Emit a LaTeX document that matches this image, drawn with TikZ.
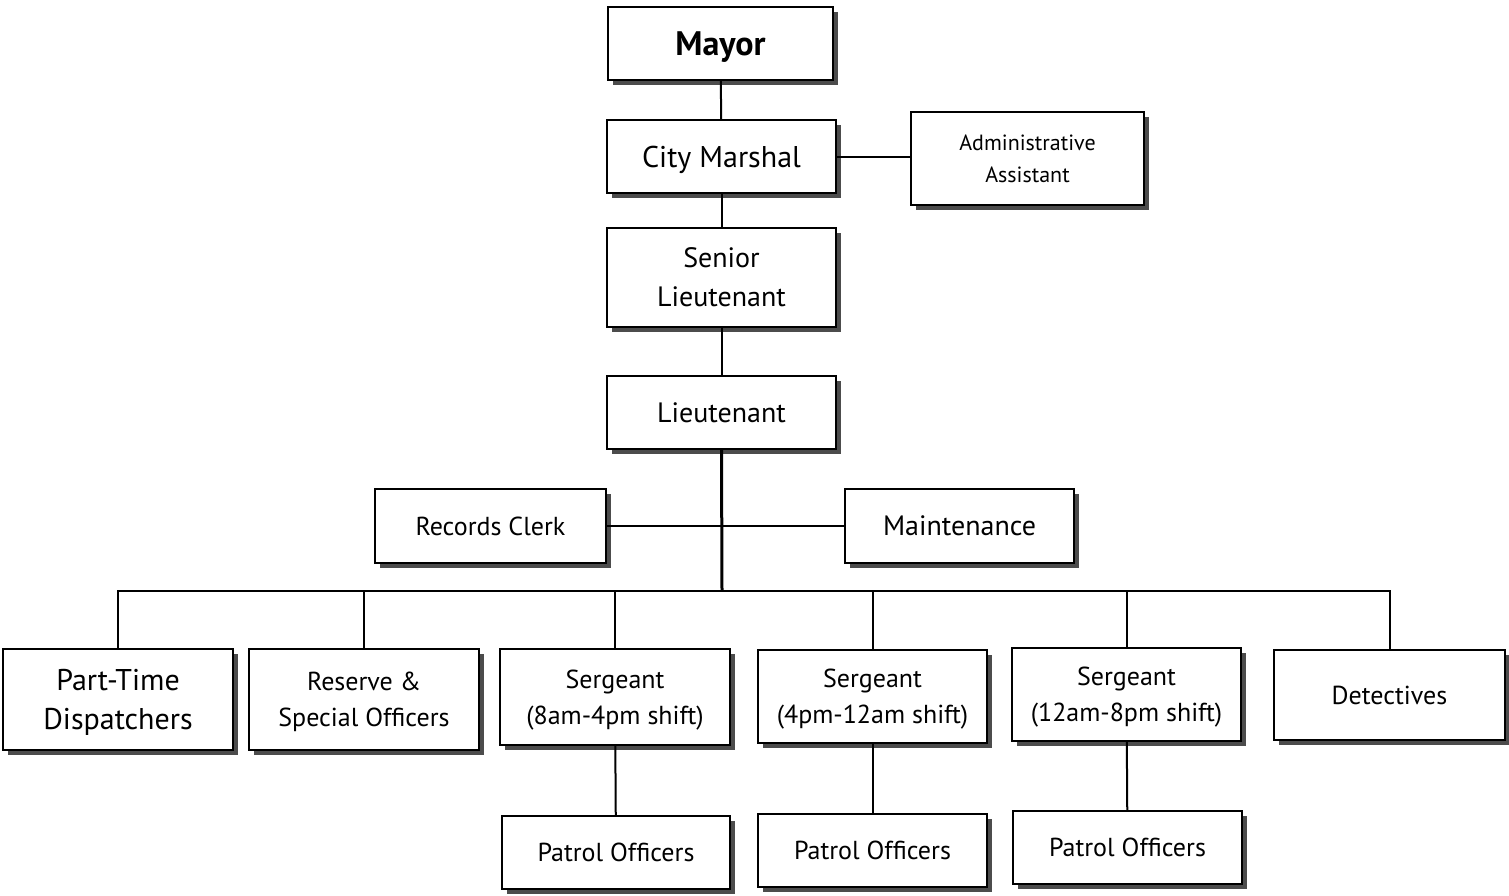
\documentclass[tikz,border=0pt]{standalone}
\usepackage{fontspec}
\setmainfont{PT Sans}
\usepackage{tikz}
\usetikzlibrary{positioning,shadows}
\newcommand{\bigtxt}{\fontsize{15}{19.5}\selectfont}
\newcommand{\midtxt}{\fontsize{13}{18}\selectfont}
\newcommand{\smalltxt}{\fontsize{11}{16}\selectfont}
\tikzset{
  orgbox/.style={draw, line width=1pt, fill=white, align=center, inner sep=2pt,
    minimum width=114.5pt, minimum height=36.5pt, font=\midtxt, text depth=0pt,
    drop shadow={shadow xshift=2.5pt, shadow yshift=-2.5pt, fill=black!70, opacity=1}},
  link/.style={line width=1pt}
}

\begin{document}
\begin{tikzpicture}[x=0.5pt, y=-0.5pt]
  \useasboundingbox (0,0) rectangle (1509,895);

  % top of the chain
  \node[orgbox, minimum width=112.5pt, font=\fontsize{17}{20}\selectfont\bfseries] (mayor) at (720.5,43.5) {Mayor};
  \node[orgbox, font=\bigtxt] (marshal) at (721.5,156.5) {City Marshal};
  \node[orgbox, minimum width=116.5pt, minimum height=46.5pt, font=\smalltxt] (admin) at (1027.5,158.5) {Administrative\\Assistant};
  \node[orgbox, minimum height=49.5pt, font=\fontsize{14}{19.5}\selectfont] (senior) at (721.5,277.5) {Senior\\Lieutenant};
  \node[orgbox, font=\fontsize{14}{18}\selectfont] (lieut) at (721.5,412.5) {Lieutenant};

  % staff
  \node[orgbox, minimum width=115.5pt, minimum height=37pt] (clerk) at (490.5,526) {Records Clerk};
  \node[orgbox, minimum height=37pt, font=\fontsize{14}{18}\selectfont] (maint) at (959.5,526) {Maintenance};

  % divisions
  \node[orgbox, minimum width=115pt, minimum height=50.5pt, font=\bigtxt] (dispatch) at (118,699.5) {Part-Time\\Dispatchers};
  \node[orgbox, minimum width=115pt, minimum height=50.5pt] (reserve) at (364,699.5) {Reserve \&\\Special Officers};
  \node[orgbox, minimum width=115pt, minimum height=48pt] (sgtA) at (615,697) {Sergeant\\(8am-4pm shift)};
  \node[orgbox, minimum height=46.5pt] (sgtB) at (872.5,696.5) {Sergeant\\(4pm-12am shift)};
  \node[orgbox, minimum height=46.5pt] (sgtC) at (1126.5,694.5) {Sergeant\\(12am-8pm shift)};
  \node[orgbox, minimum width=115.5pt, minimum height=45pt] (detect) at (1389.5,695) {Detectives};

  % patrols
  \node[orgbox, minimum width=114pt] (patrolA) at (616,852.5) {Patrol Officers};
  \node[orgbox] (patrolB) at (872.5,850.5) {Patrol Officers};
  \node[orgbox] (patrolC) at (1127.5,847.5) {Patrol Officers};

  \coordinate (bus) at (722,591);

  % connectors
  \draw[link] (mayor) -- (marshal);
  \draw[link] (marshal) -- (senior);
  \draw[link] (marshal.east) -- (marshal.east -| admin.west);
  \draw[link] (senior) -- (lieut);
  \draw[link, line width=1.5pt] (lieut.south) -- (bus);
  \draw[link] (clerk.east) -- (maint.west);
  \draw[link] (dispatch.north) -- (dispatch.north |- bus) -- (detect.north |- bus) -- (detect.north);
  \foreach \d in {reserve, sgtA, sgtB, sgtC}
    \draw[link] (\d.north) -- (\d.north |- bus);
  \draw[link] (sgtA) -- (patrolA);
  \draw[link] (sgtB) -- (patrolB);
  \draw[link] (sgtC) -- (patrolC);
\end{tikzpicture}
\end{document}
